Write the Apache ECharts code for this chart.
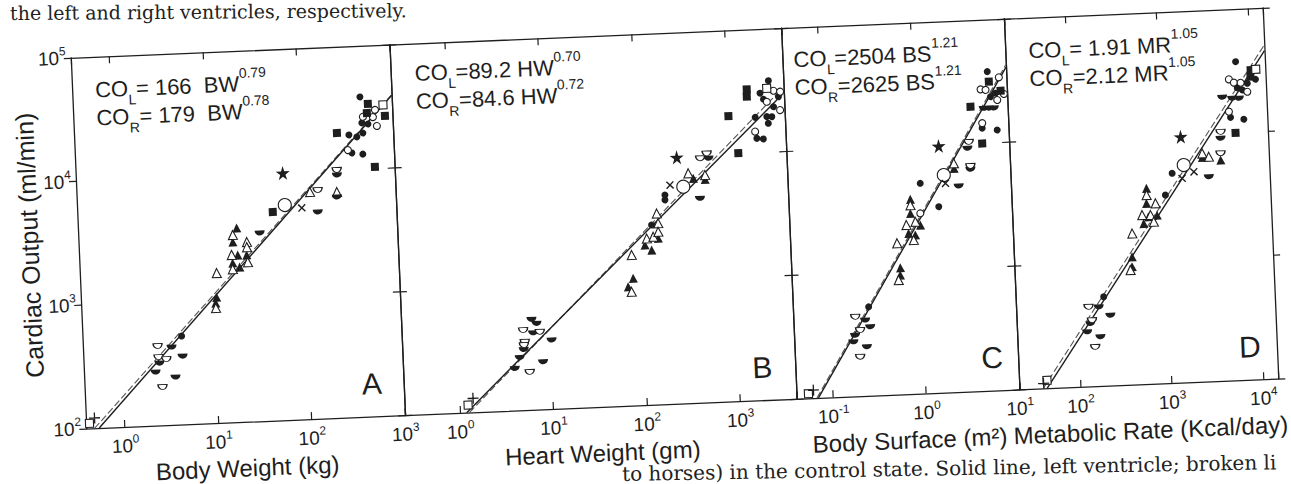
<!DOCTYPE html>
<html><head><meta charset="utf-8">
<script src="https://cdn.jsdelivr.net/npm/echarts@6/dist/echarts.min.js"></script>
<style>
html,body{margin:0;padding:0;background:#fff;overflow:hidden;width:1291px;height:484px;position:relative;}
#wrap{position:absolute;left:-40px;top:-40px;width:1371px;height:564px;transform:rotate(-2.4deg);transform-origin:50% 50%;}
</style></head><body><div id="wrap"></div>
<script>
// ---------------- DATA ----------------
const yRange = [100, 100000];
const yTickLabels = [100, 1000, 10000, 100000];

const xRangeA = [0.3855, 1000];
const xRangeB = [0.2576, 4055];
const xRangeC = [0.04074, 10];
const xRangeD = [21.63, 14620];

const xTickLabelsA = [1, 10, 100, 1000];
const xTickLabelsB = [1, 10, 100, 1000];
const xTickLabelsC = [0.1, 1, 10];
const xTickLabelsD = [100, 1000, 10000];

const xNames = ['Body Weight (kg)', 'Heart Weight (gm)', 'Body Surface (m\u00B2)', 'Metabolic Rate (Kcal/day)'];
const yName = 'Cardiac Output (ml/min)';
const panelLetters = ['A', 'B', 'C', 'D'];

const equations = [
  ['CO{sub|L}= 166  BW{sup|0.79}', 'CO{sub|R}= 179  BW{sup|0.78}'],
  ['CO{sub|L}=89.2 HW{sup|0.70}', 'CO{sub|R}=84.6 HW{sup|0.72}'],
  ['CO{sub|L}=2504 BS{sup|1.21}', 'CO{sub|R}=2625 BS{sup|1.21}'],
  ['CO{sub|L}= 1.91 MR{sup|1.05}', 'CO{sub|R}=2.12 MR{sup|1.05}']
];

// regression lines (end points): solid = left ventricle, broken = right ventricle
const lineA_L = [[0.53, 100], [1000, 38900]];
const lineA_R = [[0.474, 100], [1000, 39200]];
const lineB_L = [[1.18, 100], [3860, 28900]];
const lineB_R = [[1.26, 100], [3860, 32300]];
const lineC_L = [[0.0698, 100], [10, 40600]];
const lineC_R = [[0.0672, 100], [10, 42600]];
const lineD_L = [[43.4, 100], [14600, 45100]];
const lineD_R = [[39.3, 100], [14600, 50100]];

// points: [x, cardiac output, marker kind]
const panelA = [
[457,38600,'fc'],[552,33700,'fs'],[800,32700,'os'],[653,30000,'oc'],[617,26300,'oc'],[674,22200,'oc'],[534,28500,'fs'],[830,26600,'fs'],[482,26600,'oc'],[467,23800,'fc'],[542,23200,'fc'],[250,20100,'fs'],[335,19200,'fc'],[407,18400,'fc'],[474,19700,'fc'],[322,14500,'oc'],[354,13700,'fc'],[463,13300,'fc'],[615,10400,'fs'],[63.2,9960,'star'],[240,10100,'oh'],[240,9200,'fh'],[235,6700,'ot'],[234,6110,'fh'],[121,6860,'ot'],[147,7060,'oh'],[144,4690,'fh'],[64.3,5480,'bigoc'],[97.5,5120,'x'],[47.5,4860,'fs'],[33.7,3320,'fh'],[19.2,3710,'ft'],[17.3,3270,'ot'],[17.2,2870,'ft'],[24.3,2840,'ot'],[24.2,2580,'ot'],[16.5,2260,'ot'],[19.2,2240,'ft'],[23.9,2230,'ft'],[24.4,1950,'ot'],[16.8,1940,'ft'],[19.9,1790,'ft'],[16.7,1730,'ot'],[11.2,1630,'ot'],[10.9,1040,'ft'],[10.6,933,'ft'],[10.6,851,'ot'],[4.43,519,'fc'],[2.43,439,'oh'],[3.42,426,'fh'],[2.46,357,'oh'],[2.50,319,'fh'],[2.97,342,'oh'],[2.25,271,'fh'],[3.66,243,'fh'],[4.45,357,'fh'],[2.63,204,'oh'],[0.477,121,'plus'],[0.419,110,'os']
];
const panelB = [
[2800,38000,'fc'],[1630,32900,'fs'],[1620,28700,'fs'],[2670,33000,'os'],[3140,31400,'oc'],[3700,30700,'oc'],[3630,21800,'oc'],[2640,25700,'oc'],[2250,30300,'fc'],[2440,27000,'fc'],[3530,28000,'fc'],[3100,23300,'fc'],[2600,19500,'fc'],[2940,19400,'fc'],[2680,17200,'fc'],[1950,19400,'fc'],[1010,20300,'fs'],[1920,14900,'oc'],[1990,13100,'fc'],[2330,12900,'fc'],[1240,10100,'fs'],[271,9810,'star'],[569,10300,'oh'],[592,9400,'fh'],[482,9460,'oh'],[354,7220,'ot'],[534,6900,'ot'],[399,6550,'ft'],[532,6370,'ft'],[461,4490,'fh'],[309,5650,'bigoc'],[223,5890,'x'],[195,4910,'fc'],[194,4480,'fc'],[156,3510,'ot'],[160,2920,'ot'],[136,2840,'fc'],[119,2220,'ot'],[140,2280,'ot'],[159,2490,'ot'],[113,1970,'ft'],[158,2210,'ft'],[133,1780,'ft'],[80.7,1650,'ot'],[81.9,1070,'ft'],[71.8,916,'ft'],[77.6,833,'ot'],[6.41,539,'fh'],[7.22,498,'fh'],[5.16,444,'oh'],[7.77,425,'oh'],[6.58,419,'fh'],[10.3,361,'fh'],[5.31,357,'oh'],[5.18,336,'oh'],[5.14,310,'fh'],[4.62,268,'fh'],[4.04,219,'fh'],[8.17,243,'fh'],[5.82,203,'oh'],[1.40,130,'plus'],[1.23,115,'os']
];
const panelC = [
[6.27,37900,'fc'],[8.30,33800,'oc'],[5.22,27400,'oc'],[5.90,27000,'oc'],[7.79,22200,'oc'],[9.23,24700,'oc'],[6.45,31400,'fs'],[8.54,26300,'fs'],[6.62,23700,'fc'],[7.50,25200,'fc'],[4.00,20000,'fs'],[5.55,19200,'fh'],[6.28,19200,'fh'],[7.11,19200,'fh'],[5.25,14600,'oc'],[5.22,13300,'fc'],[7.55,12700,'fc'],[5.14,10000,'fs'],[1.75,9870,'star'],[3.70,10400,'oh'],[3.56,9250,'fh'],[3.76,6640,'oh'],[3.75,6240,'fh'],[2.50,7070,'ot'],[2.50,6440,'ft'],[2.76,4620,'fh'],[1.93,5730,'bigoc'],[1.99,4900,'x'],[1.07,5000,'fc'],[1.65,3190,'fc'],[1.04,2860,'oc'],[0.825,3740,'ft'],[0.815,2880,'ft'],[0.82,3360,'ot'],[0.728,2330,'ot'],[0.912,2460,'ot'],[0.859,1750,'ot'],[0.764,1990,'ft'],[0.90,1920,'ft'],[1.03,2300,'ft'],[0.568,1670,'ot'],[0.601,1055,'ft'],[0.596,921,'ft'],[0.568,841,'ot'],[0.264,523,'fc'],[0.188,439,'oh'],[0.209,342,'oh'],[0.239,410,'fh'],[0.269,361,'fh'],[0.243,249,'fh'],[0.184,312,'fh'],[0.175,276,'fh'],[0.204,208,'oh'],[0.0621,116,'plus'],[0.0547,109,'os']
];
const panelD = [
[6980,37600,'fc'],[10100,31800,'fs'],[10000,28100,'fs'],[11500,32100,'os'],[5790,27200,'oc'],[6540,25500,'oc'],[7750,25300,'oc'],[9080,21300,'oc'],[11300,26700,'fc'],[9160,24900,'fc'],[7080,23100,'fc'],[8020,22100,'fc'],[4810,19600,'fh'],[6180,19100,'fh'],[7300,19000,'fh'],[5600,14900,'oc'],[5800,13400,'fc'],[8090,12800,'fc'],[6470,10000,'fs'],[1620,9710,'star'],[4450,10300,'oh'],[4420,9140,'fh'],[4350,6920,'oh'],[4330,6110,'ft'],[2740,7010,'ot'],[3220,6550,'ot'],[2730,6510,'ft'],[3160,4510,'fh'],[1700,5720,'bigoc'],[2180,5010,'x'],[1610,4470,'x'],[1260,4950,'fc'],[1040,3320,'fc'],[803,2870,'ot'],[650,3820,'ft'],[640,2890,'ft'],[646,3370,'ot'],[567,2330,'ot'],[700,2320,'ot'],[754,2040,'ot'],[585,1990,'ft'],[664,2250,'ft'],[827,2300,'ft'],[433,1670,'ot'],[422,1080,'ft'],[418,898,'ft'],[399,845,'ot'],[198,525,'fc'],[134,441,'oh'],[144,343,'oh'],[173,437,'fh'],[230,371,'fh'],[175,250,'fh'],[126,277,'fh'],[138,323,'fh'],[152,208,'oh'],[39.9,110,'plus'],[43.6,116,'os']
];

const captionTop = 'the left and right ventricles, respectively.';
const captionBottom = 'to horses) in the control state. Solid line, left ventricle; broken li';

// ---------------- LAYOUT / STYLE ----------------
const W = 1291, H = 484, PAD = 40, ANG = 2.4;
const INK = '#1e1e1e';
const FONT = '"Liberation Sans", Arial, sans-serif';
const SERIF = '"DejaVu Serif", "Liberation Serif", serif';
const TOP = 34, BOTTOM = 405;
const LAYOUT = [
  {left: 79, right: 398, letterDx: 32, eqDx: 23, eqY: 67},
  {left: 398, right: 790, letterDx: 33, eqDx: 24, eqY: 64},
  {left: 790, right: 1013, letterDx: 26, eqDx: 11, eqY: 66},
  {left: 1013, right: 1272, letterDx: 27, eqDx: 23, eqY: 67}
];
const panels = [
  {pts: panelA, xr: xRangeA, xt: xTickLabelsA, L: lineA_L, R: lineA_R},
  {pts: panelB, xr: xRangeB, xt: xTickLabelsB, L: lineB_L, R: lineB_R},
  {pts: panelC, xr: xRangeC, xt: xTickLabelsC, L: lineC_L, R: lineC_R},
  {pts: panelD, xr: xRangeD, xt: xTickLabelsD, L: lineD_L, R: lineD_R}
];

const HALF = 'path://M0,0 L20,0 C20,6 15,10 10,10 C5,10 0,6 0,0 Z';
const STAR = 'path://M50,0 L61,35 L98,35 L68,57 L79,91 L50,70 L21,91 L32,57 L2,35 L39,35 Z';
const XP = 'path://M0,0 L10,10 M10,0 L0,10';
const PLUS = 'path://M5,0 L5,10 M0,5 L10,5';
const CLEAR = 'rgba(0,0,0,0)';
const SYM = {
  fc: {symbol: 'circle', size: 7, fill: INK},
  oc: {symbol: 'circle', size: 7, fill: '#fff', stroke: INK},
  bigoc: {symbol: 'circle', size: 13, fill: '#fff', stroke: INK},
  fs: {symbol: 'rect', size: 8, fill: INK},
  os: {symbol: 'rect', size: 8, fill: '#fff', stroke: INK},
  ft: {symbol: 'triangle', size: 9, fill: INK},
  ot: {symbol: 'triangle', size: 9, fill: '#fff', stroke: INK},
  fh: {symbol: HALF, size: [10, 5], fill: INK},
  oh: {symbol: HALF, size: [9, 5], fill: '#fff', stroke: INK},
  star: {symbol: STAR, size: 14, fill: INK},
  x: {symbol: XP, size: 7, fill: CLEAR, stroke: INK, bw: 1.4},
  plus: {symbol: PLUS, size: 11, fill: CLEAR, stroke: INK, bw: 1.3}
};

function imgToChart(px, py) {
  const a = ANG * Math.PI / 180, c = Math.cos(a), s = Math.sin(a);
  const dx = px - W / 2, dy = py - H / 2;
  return [dx * c - dy * s + W / 2 + PAD, dx * s + dy * c + H / 2 + PAD];
}

function isTick(v, list) {
  return list.some(t => Math.abs(Math.log10(t) - Math.log10(v)) < 1e-6);
}
function powLabel(list) {
  return function (v) {
    if (!isTick(v, list)) return '';
    return '{b|10}{s|' + Math.round(Math.log10(v)) + '}';
  };
}
const labelRich = {
  b: {fontSize: 19, fontFamily: FONT, color: INK, lineHeight: 26},
  s: {fontSize: 12, fontFamily: FONT, color: INK, lineHeight: 12, verticalAlign: 'top'}
};
const axisLineStyle = {color: INK, width: 1.3};

const chart = echarts.init(document.getElementById('wrap'), null, {renderer: 'svg'});

const grids = [], xAxes = [], yAxes = [], series = [], graphics = [];
panels.forEach((p, i) => {
  const lay = LAYOUT[i];
  grids.push({left: lay.left + PAD, top: TOP + PAD, width: lay.right - lay.left, height: BOTTOM - TOP, show: false});
  xAxes.push({
    type: 'log', gridIndex: i, min: p.xr[0], max: p.xr[1], position: 'bottom',
    axisLine: {show: true, lineStyle: axisLineStyle},
    axisTick: {show: true, inside: true, length: 7, lineStyle: {color: INK, width: 1.2}},
    minorTick: {show: false}, splitLine: {show: false},
    axisLabel: {show: true, margin: 6, formatter: powLabel(p.xt), rich: labelRich, showMinLabel: true, showMaxLabel: true},
    name: xNames[i], nameLocation: 'middle', nameGap: 34,
    nameTextStyle: {fontSize: 24, fontFamily: FONT, color: INK}
  });
  xAxes.push({
    type: 'log', gridIndex: i, min: p.xr[0], max: p.xr[1], position: 'top',
    axisLine: {show: true, lineStyle: axisLineStyle},
    axisTick: {show: true, inside: true, length: 7, lineStyle: {color: INK, width: 1.2}},
    minorTick: {show: false}, splitLine: {show: false}, axisLabel: {show: false}
  });
  yAxes.push({
    type: 'log', gridIndex: i, min: yRange[0], max: yRange[1], position: 'left',
    axisLine: {show: true, lineStyle: axisLineStyle},
    axisTick: {show: true, inside: false, length: 7, lineStyle: {color: INK, width: 1.2}},
    minorTick: {show: false}, splitLine: {show: false},
    axisLabel: {show: i === 0, margin: 5, formatter: powLabel(yTickLabels), rich: labelRich},
    name: i === 0 ? yName : '', nameLocation: 'middle', nameGap: 29,
    nameTextStyle: {fontSize: 25, fontFamily: FONT, color: INK}
  });
  yAxes.push({
    type: 'log', gridIndex: i, min: yRange[0], max: yRange[1], position: 'right',
    axisLine: {show: true, lineStyle: axisLineStyle},
    axisTick: {show: true, inside: false, length: 7, lineStyle: {color: INK, width: 1.2}},
    minorTick: {show: false}, splitLine: {show: false}, axisLabel: {show: false}
  });

  // regression lines
  series.push({type: 'line', xAxisIndex: 2 * i, yAxisIndex: 2 * i, data: p.R, symbol: 'none', silent: true,
    lineStyle: {color: '#555', width: 1.1, type: [7, 3]}, z: 2});
  series.push({type: 'line', xAxisIndex: 2 * i, yAxisIndex: 2 * i, data: p.L, symbol: 'none', silent: true,
    lineStyle: {color: INK, width: 1.4}, z: 2});

  // markers
  Object.keys(SYM).forEach(k => {
    const d = p.pts.filter(q => q[2] === k).map(q => [q[0], q[1]]);
    if (!d.length) return;
    const s = SYM[k];
    series.push({
      type: 'scatter', xAxisIndex: 2 * i, yAxisIndex: 2 * i, data: d, silent: true,
      symbol: s.symbol, symbolSize: s.size, z: 3,
      itemStyle: {color: s.fill, borderColor: s.stroke || INK, borderWidth: s.stroke ? (s.bw || 1.1) : 0, opacity: 1}
    });
  });

  // panel letter
  graphics.push({type: 'text', x: lay.right - lay.letterDx + PAD, y: BOTTOM - 33 + PAD, silent: true,
    style: {text: panelLetters[i], fill: INK, fontSize: 30, fontFamily: FONT, align: 'center', verticalAlign: 'middle'}});
  // equations
  equations[i].forEach((eq, j) => {
    graphics.push({type: 'text', x: lay.left + lay.eqDx + PAD, y: lay.eqY + 28 * j + PAD, silent: true,
      style: {text: eq, fill: INK, fontSize: 22, fontFamily: FONT, align: 'left', verticalAlign: 'middle', lineHeight: 36,
        rich: {
          sub: {fontSize: 14, fontFamily: FONT, fill: INK, lineHeight: 20, verticalAlign: 'bottom'},
          sup: {fontSize: 14, fontFamily: FONT, fill: INK, lineHeight: 14, verticalAlign: 'top'}
        }}});
  });
});

// captions (page text around the figure)
const capTopPos = imgToChart(10, 13);
graphics.push({type: 'text', x: capTopPos[0], y: capTopPos[1], rotation: -2.0 * Math.PI / 180, silent: true,
  style: {text: captionTop, fill: '#222', fontSize: 19, fontFamily: SERIF, align: 'left', verticalAlign: 'middle'}});
const capBotPos = imgToChart(622, 474);
graphics.push({type: 'text', x: capBotPos[0], y: capBotPos[1], rotation: -1.4 * Math.PI / 180, silent: true,
  style: {text: captionBottom, fill: '#222', fontSize: 20, fontFamily: SERIF, align: 'left', verticalAlign: 'middle'}});

chart.setOption({
  animation: false,
  backgroundColor: '#fff',
  grid: grids,
  xAxis: xAxes,
  yAxis: yAxes,
  series: series,
  graphic: graphics
});
</script></body></html>
